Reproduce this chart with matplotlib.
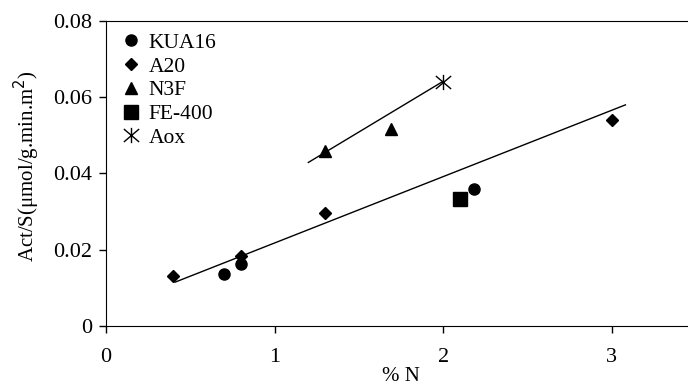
import matplotlib
matplotlib.use('Agg')
import matplotlib.pyplot as plt
from matplotlib.path import Path

# data
kua16_x = [0.7, 0.8, 2.18]
kua16_y = [0.0136, 0.0163, 0.0359]
a20_x = [0.4, 0.8, 1.3, 3.0]
a20_y = [0.0131, 0.0184, 0.0296, 0.054]
n3f_x = [1.3, 1.69]
n3f_y = [0.0459, 0.0517]
fe400_x = [2.1]
fe400_y = [0.0333]
aox_x = [2.0]
aox_y = [0.064]

# trend lines (endpoints)
trend1_x = [0.41, 3.08]
trend1_y = [0.0115, 0.058]
trend2_x = [1.2, 2.0]
trend2_y = [0.0429, 0.0642]

plt.rcParams['font.family'] = ['Liberation Serif', 'DejaVu Serif']
plt.rcParams['font.size'] = 15

# x with a vertical bar through it
star = Path([(0, -1), (0, 1), (-1, -0.85), (1, 0.85), (-1, 0.85), (1, -0.85)],
            [Path.MOVETO, Path.LINETO, Path.MOVETO, Path.LINETO, Path.MOVETO, Path.LINETO])

fig = plt.figure(figsize=(6.88, 3.89), dpi=100)
ax = fig.add_axes([0.154, 0.162, 0.858, 0.784])

ax.plot(trend1_x, trend1_y, color='black', lw=1)
ax.plot(trend2_x, trend2_y, color='black', lw=1)

ax.plot(kua16_x, kua16_y, 'o', color='black', ms=8, label='KUA16')
ax.plot(a20_x, a20_y, 'D', color='black', ms=6.5, label='A20')
ax.plot(n3f_x, n3f_y, '^', color='black', ms=8, label='N3F')
ax.plot(fe400_x, fe400_y, 's', color='black', ms=9.5, label='FE-400')
ax.plot(aox_x, aox_y, marker=star, ls='none', color='black', ms=11,
        mew=1, label='Aox')

ax.set_xlim(0, 3.5)
ax.set_ylim(0, 0.08)
ax.set_xticks([0, 1, 2, 3])
ax.set_yticks([0, 0.02, 0.04, 0.06, 0.08])
ax.set_yticklabels(['0', '0.02', '0.04', '0.06', '0.08'])
ax.tick_params(direction='out', length=5, width=1, pad=5, labelsize=16)
ax.tick_params(axis='x', pad=11)
ax.spines['right'].set_visible(False)

ax.set_xlabel('% N', labelpad=0)
ax.set_ylabel('Act/S(μmol/g.min.m$^2$)')
ax.yaxis.set_label_coords(-0.108, 0.525)

ax.legend(loc='upper left', frameon=False, handlelength=0.6, handletextpad=0.5,
          labelspacing=0.17, borderaxespad=0.15, bbox_to_anchor=(0.012, 1.0),
          fontsize=15.5)

fig.savefig('out.png', dpi=100)
